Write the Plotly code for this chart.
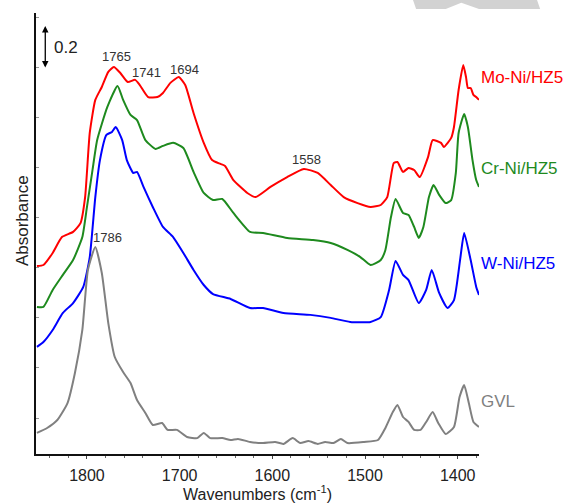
import plotly.graph_objects as go

# ---- data (wavenumber in cm-1, absorbance with vertical offsets) ----
mo_wn = [1854, 1847, 1837, 1827, 1815, 1807, 1802, 1797, 1791, 1784, 1777, 1771, 1764, 1756, 1748, 1743,
         1734, 1724, 1718, 1710, 1701, 1694, 1685, 1674, 1665, 1656, 1651, 1642, 1627, 1618, 1602, 1584,
         1566, 1551, 1537, 1523, 1508, 1494, 1483, 1476, 1469, 1465, 1459, 1453, 1447, 1441, 1432, 1427,
         1418, 1415, 1407, 1404, 1399, 1394, 1391, 1389, 1386, 1383, 1380, 1377]
mo_abs = [0.874, 0.879, 0.935, 1.009, 1.033, 1.074, 1.195, 1.493, 1.647, 1.707, 1.777, 1.800, 1.772, 1.730,
          1.740, 1.716, 1.660, 1.660, 1.679, 1.726, 1.753, 1.716, 1.586, 1.447, 1.367, 1.349, 1.340, 1.274,
          1.214, 1.195, 1.242, 1.288, 1.326, 1.307, 1.251, 1.195, 1.167, 1.149, 1.158, 1.195, 1.353, 1.358,
          1.312, 1.330, 1.321, 1.288, 1.381, 1.460, 1.447, 1.428, 1.470, 1.521, 1.693, 1.809, 1.753, 1.702,
          1.702, 1.670, 1.660, 1.647]

cr_wn = [1854, 1847, 1837, 1826, 1815, 1805, 1800, 1794, 1789, 1778, 1767, 1761, 1753, 1746, 1737, 1726,
         1718, 1707, 1696, 1685, 1674, 1664, 1654, 1642, 1624, 1610, 1584, 1556, 1537, 1519, 1505, 1494,
         1483, 1478, 1472, 1467, 1459, 1453, 1447, 1442, 1437, 1431, 1426, 1420, 1413, 1407, 1402, 1399,
         1393, 1389, 1384, 1380, 1377]
cr_abs = [0.684, 0.684, 0.763, 0.833, 0.902, 1.009, 1.149, 1.321, 1.460, 1.614, 1.712, 1.647, 1.577, 1.553,
          1.460, 1.419, 1.433, 1.447, 1.423, 1.312, 1.214, 1.181, 1.186, 1.121, 1.033, 1.028, 1.005, 0.995,
          0.981, 0.949, 0.916, 0.879, 0.902, 0.949, 1.102, 1.186, 1.121, 1.112, 1.056, 1.005, 1.056, 1.195,
          1.251, 1.205, 1.167, 1.181, 1.307, 1.493, 1.581, 1.521, 1.367, 1.274, 1.242]

w_wn = [1854, 1847, 1837, 1826, 1815, 1804, 1797, 1791, 1786, 1779, 1773, 1769, 1762, 1757, 1750, 1746,
        1739, 1729, 1718, 1707, 1696, 1685, 1674, 1664, 1645, 1624, 1610, 1588, 1559, 1537, 1516, 1494,
        1483, 1474, 1467, 1459, 1453, 1442, 1434, 1428, 1420, 1411, 1404, 1397, 1393, 1386, 1380, 1377]
w_abs = [0.498, 0.521, 0.577, 0.656, 0.702, 0.777, 0.916, 1.195, 1.367, 1.484, 1.498, 1.521, 1.460, 1.367,
         1.307, 1.312, 1.242, 1.149, 1.056, 1.009, 0.935, 0.856, 0.786, 0.744, 0.721, 0.679, 0.679, 0.656,
         0.647, 0.633, 0.614, 0.614, 0.637, 0.763, 0.898, 0.833, 0.809, 0.702, 0.763, 0.856, 0.749, 0.679,
         0.716, 0.916, 1.028, 0.902, 0.777, 0.740]

gvl_wn = [1854, 1843, 1832, 1821, 1813, 1805, 1799, 1791, 1784, 1777, 1770, 1761, 1753, 1746, 1737, 1729,
          1719, 1713, 1703, 1692, 1681, 1674, 1667, 1654, 1645, 1637, 1624, 1610, 1597, 1588, 1578, 1570,
          1561, 1551, 1543, 1534, 1526, 1519, 1501, 1486, 1478, 1470, 1465, 1459, 1453, 1447, 1440, 1434,
          1427, 1421, 1413, 1404, 1398, 1393, 1388, 1383, 1377]
gvl_abs = [0.098, 0.121, 0.158, 0.237, 0.377, 0.577, 0.856, 0.963, 0.842, 0.609, 0.451, 0.381, 0.330, 0.251,
           0.191, 0.135, 0.144, 0.112, 0.112, 0.079, 0.074, 0.098, 0.074, 0.074, 0.065, 0.070, 0.056, 0.051,
           0.056, 0.047, 0.074, 0.051, 0.060, 0.047, 0.056, 0.051, 0.070, 0.051, 0.056, 0.065, 0.121, 0.195,
           0.228, 0.172, 0.149, 0.112, 0.112, 0.149, 0.195, 0.144, 0.093, 0.126, 0.265, 0.321, 0.237, 0.149,
           0.126]

series_names = ["Mo-Ni/HZ5", "Cr-Ni/HZ5", "W-Ni/HZ5", "GVL"]
series_colors = ["#ff0000", "#1e8a1e", "#0000ff", "#808080"]
label_abs = [1.753, 1.330, 0.888, 0.242]

peak_texts = ["1765", "1741", "1694", "1558", "1786"]
peak_wn = [1768, 1736, 1695, 1563, 1778]
peak_abs = [1.847, 1.772, 1.786, 1.372, 1.009]

x_ticks = [1800, 1700, 1600, 1500, 1400]

FONT = "Liberation Sans, Arial, sans-serif"

fig = go.Figure()
for wn, ab, name, col in zip([mo_wn, cr_wn, w_wn, gvl_wn], [mo_abs, cr_abs, w_abs, gvl_abs],
                             series_names, series_colors):
    fig.add_trace(go.Scatter(x=wn, y=ab, mode="lines", name=name,
                             line=dict(color=col, width=2, shape="spline", smoothing=0.5),
                             showlegend=False))

annotations = []
for name, col, ya in zip(series_names, series_colors, label_abs):
    annotations.append(dict(x=1.0, y=ya, xref="paper", yref="y", text=name, showarrow=False,
                            xanchor="left", yanchor="middle",
                            font=dict(family=FONT, size=17, color=col)))
for t, xw, ya in zip(peak_texts, peak_wn, peak_abs):
    annotations.append(dict(x=xw, y=ya, xref="x", yref="y", text=t, showarrow=False,
                            xanchor="center", yanchor="middle",
                            font=dict(family=FONT, size=13, color="#333333")))
# scale bar 0.2
annotations.append(dict(x=1845, y=1.99, ax=1845, ay=1.79, xref="x", yref="y", axref="x", ayref="y",
                        text="", showarrow=True, arrowhead=2, arrowside="end+start",
                        arrowsize=1, arrowwidth=1.3, arrowcolor="black"))
annotations.append(dict(x=1838, y=1.89, xref="x", yref="y", text="0.2", showarrow=False,
                        xanchor="left", yanchor="middle",
                        font=dict(family=FONT, size=17, color="#222222")))
# y title
annotations.append(dict(x=-0.032, y=0.53, xref="paper", yref="paper", text="Absorbance",
                        showarrow=False, textangle=-90, xanchor="center", yanchor="middle",
                        font=dict(family=FONT, size=17, color="#222222")))

fig.update_layout(
    width=574, height=503,
    margin=dict(l=36, r=95, t=13, b=49),
    paper_bgcolor="white", plot_bgcolor="white",
    annotations=annotations,
    shapes=[dict(type="path", xref="paper", yref="paper",
                 path="M 0.851 1.0295 L 1.131 1.0295 L 1.138 1.009 L 1.0 1.009 L 0.96 1.023 L 0.925 1.009 L 0.858 1.009 Z",
                 fillcolor="#d2d2d2", line=dict(width=0), layer="below")],
    xaxis=dict(range=[1855, 1377], tickvals=x_ticks, showgrid=False, zeroline=False,
               automargin=False,
               showline=True, linecolor="#111111", linewidth=1.5,
               ticks="outside", ticklen=3, tickcolor="#444444", ticklabelstandoff=3,
               minor=dict(dtick=20, tick0=1400, ticks="outside", ticklen=2, tickcolor="#666666"),
               tickfont=dict(family=FONT, size=16, color="#222222"),
               title=dict(text="Wavenumbers (cm<sup>-1</sup>)", standoff=4,
                          font=dict(family=FONT, size=16, color="#222222"))),
    yaxis=dict(range=[0, 2.051], showgrid=False, zeroline=False, showticklabels=False,
               automargin=False,
               showline=True, linecolor="#111111", linewidth=1.5,
               ticks="inside", ticklen=3, tickcolor="#999999", tick0=0.167, dtick=0.233),
)

fig.write_html("out.html", config={"displayModeBar": False},
               post_script="document.body.style.margin='0';document.body.style.padding='0';")
